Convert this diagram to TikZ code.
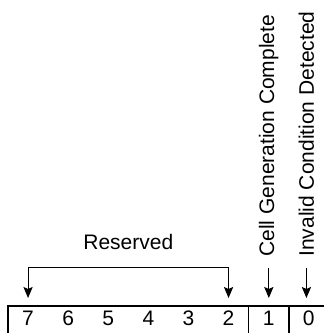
\documentclass[tikz,border=0pt]{standalone}
\usepackage{fontspec}
\setmainfont{Liberation Sans}
\usetikzlibrary{positioning,arrows.meta}

\begin{document}
\begin{tikzpicture}[x=0.5pt,y=0.5pt,node distance=0pt,
 cell/.style={minimum width=19.65pt,minimum height=11.5pt,inner sep=0pt,
 font=\fontsize{10.5}{12.6}\selectfont},
 lbl/.style={inner sep=0pt,font=\fontsize{10.5}{12.6}\selectfont},
 vlbl/.style={lbl,rotate=90,anchor=base west},
 frame/.style={line width=1pt}, divider/.style={line width=0.5pt},
 arr/.style={line width=0.5pt,-{Stealth[length=5.5pt,width=4.6pt,inset=1pt]}},
 bracket/.style={line width=0.5pt,
 {Stealth[length=5.5pt,width=4.6pt,inset=1pt]}-{Stealth[length=5.5pt,width=4.6pt,inset=1pt]}}]
\useasboundingbox (0,0) rectangle (323,333);
\node[cell,anchor=north west] (b7) at (8,27) {7};
\node[cell,right=of b7] (b6) {6};
\node[cell,right=of b6] (b5) {5};
\node[cell,right=of b5] (b4) {4};
\node[cell,right=of b4] (b3) {3};
\node[cell,right=of b3] (b2) {2};
\node[cell,right=of b2] (b1) {1};
\node[cell,right=of b1] (b0) {0};
\draw[frame] ([yshift=-3pt]b7.south west) -- (b7.north west) -- ([xshift=5pt]b0.north east);
\draw[divider] (b2.north east) -- ([yshift=-3pt]b2.south east);
\draw[frame] (b1.north east) -- ([yshift=-3pt]b1.south east);
\node[vlbl] (cellgen) at ([xshift=2.8pt,yshift=24.5pt]b1.north) {Cell Generation Complete};
\node[vlbl] (invalid) at ([xshift=2.6pt,yshift=24.5pt]b0.north) {Invalid Condition Detected};
\draw[bracket]
 ([yshift=4pt]b7.north) |- node[lbl,pos=.75,above=8.75pt] (reserved) {Reserved}
 ([yshift=19pt]b2.north) -- ([yshift=4pt]b2.north);
\draw[arr] ([yshift=-5.5pt]cellgen.west) -- ([yshift=4pt]cellgen.west |- b1.north);
\draw[arr] ([yshift=-5.5pt]invalid.west) -- ([yshift=4pt]invalid.west |- b0.north);
\end{tikzpicture}
\end{document}
